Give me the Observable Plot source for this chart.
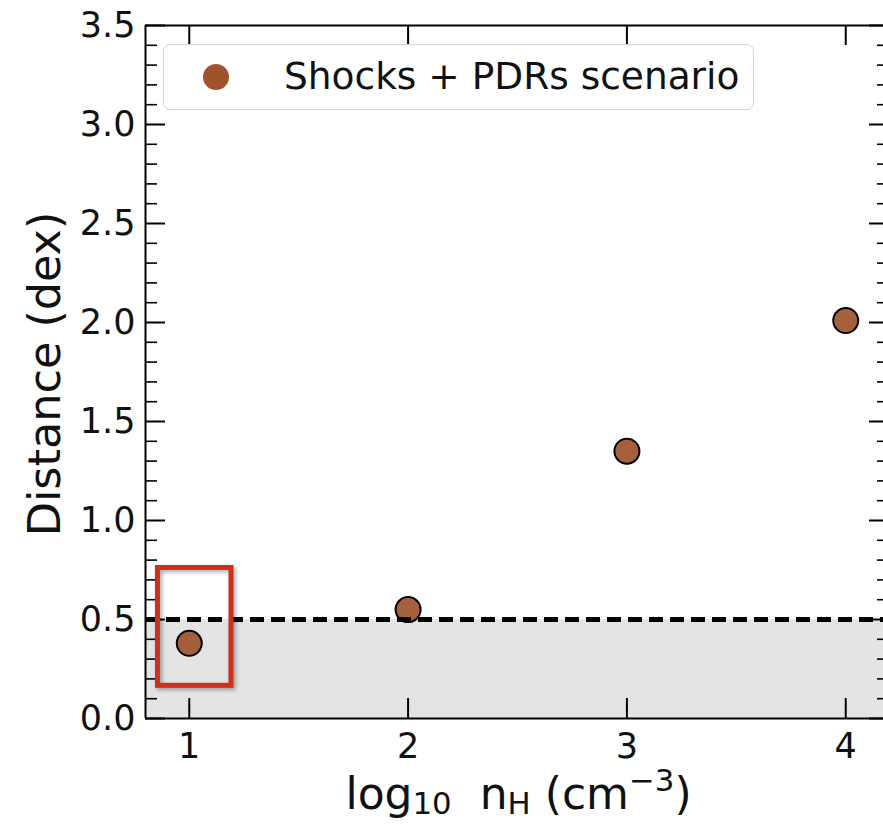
<!DOCTYPE html>
<html><head><meta charset="utf-8">
<script src="https://cdn.jsdelivr.net/npm/d3@7"></script>
<script src="https://cdn.jsdelivr.net/npm/@observablehq/plot@0.6"></script>
<style>
body{margin:0;background:#fff;font-family:"DejaVu Sans",sans-serif;}
#wrap{position:relative;width:883px;height:828px;overflow:hidden;background:#fff;}
#legend{position:absolute;left:163px;top:44px;width:591px;height:66px;box-sizing:border-box;border:1.5px solid #d4d4d4;border-radius:7px;background:rgba(255,255,255,0.85);}
#legend .mk{position:absolute;left:39px;top:19px;width:26px;height:26px;border-radius:50%;background:#a0522d;}
#legend .lt{position:absolute;left:120px;top:0;height:63px;line-height:63px;font-size:37.5px;color:#111;white-space:nowrap;}
#xtitle{position:absolute;left:0;width:1037px;top:771px;height:46px;line-height:46px;text-align:center;font-size:44px;color:#111;white-space:nowrap;}
#ytitle{position:absolute;left:45px;top:374px;line-height:50px;transform:translate(-50%,-50%) rotate(-90deg);font-size:44.5px;color:#111;white-space:nowrap;}
sub,sup{font-size:0.7em;line-height:0;}
sub{vertical-align:-0.15em;}
sup{vertical-align:0.6em;}
</style></head><body>
<div id="wrap">
  <div id="legend"><div class="mk"></div><div class="lt">Shocks + PDRs scenario</div></div>
  <div id="xtitle">log<sub>10</sub>&nbsp; n<sub>H</sub> (cm<sup>−3</sup>)</div>
  <div id="ytitle">Distance (dex)</div>
</div>
<script>
// ---- data ----
const logNH = [1, 2, 3, 4];
const distance = [0.38, 0.55, 1.35, 2.01];
const seriesName = "Shocks + PDRs scenario";
const thresholdValue = [0.5];
const shadedBand = [{y1: 0, y2: 0.5}];
const highlightBox = [{x1: 0.857, x2: 1.193, y1: 0.165, y2: 0.76}];
const xTicks = [1, 2, 3, 4];
const xTickLabels = ["1", "2", "3", "4"];
const yTicks = [0, 0.5, 1.0, 1.5, 2.0, 2.5, 3.0, 3.5];
const yTickLabels = ["0.0", "0.5", "1.0", "1.5", "2.0", "2.5", "3.0", "3.5"];
const yMinorTicks = [0.1,0.2,0.3,0.4,0.6,0.7,0.8,0.9,1.1,1.2,1.3,1.4,1.6,1.7,1.8,1.9,2.1,2.2,2.3,2.4,2.6,2.7,2.8,2.9,3.1,3.2,3.3,3.4];
const xDomain = [0.8, 4.2];
const yDomain = [0, 3.5];

// ---- layout ----
const W = 883, H = 828;
const mLeft = 145, mTop = 25, mBottom = 110;
const xRange = [145, 889];
const yRange = [H - mBottom, mTop];
const pxPerX = (xRange[1] - xRange[0]) / (xDomain[1] - xDomain[0]);
const pxPerY = (yRange[0] - yRange[1]) / (yDomain[1] - yDomain[0]);
const majorLen = 20, minorLen = 12;

const points = logNH.map((x, i) => ({x, y: distance[i], series: seriesName}));
const yT = yTicks.map((v, i) => ({v, label: yTickLabels[i]}));
const xT = xTicks.map((v, i) => ({v, label: xTickLabels[i]}));

const chart = Plot.plot({
  width: W, height: H,
  marginLeft: mLeft, marginTop: mTop, marginBottom: mBottom, marginRight: 0,
  x: {domain: xDomain, range: xRange, axis: null},
  y: {domain: yDomain, range: yRange, axis: null},
  style: {fontFamily: "DejaVu Sans, sans-serif", fontSize: "35px", background: "white", color: "#111"},
  marks: [
    Plot.rect(shadedBand, {x1: xDomain[0], x2: xDomain[1], y1: "y1", y2: "y2", fill: "#e4e4e4"}),
    // spines
    Plot.ruleX([xDomain[0]], {stroke: "black", strokeWidth: 2}),
    Plot.ruleY([yDomain[0]], {stroke: "black", strokeWidth: 2}),
    Plot.ruleY([yDomain[1]], {stroke: "black", strokeWidth: 2}),
    // inward ticks left / right
    Plot.ruleY(yTicks, {x1: xDomain[0], x2: xDomain[0] + majorLen / pxPerX, stroke: "black", strokeWidth: 2}),
    Plot.ruleY(yMinorTicks, {x1: xDomain[0], x2: xDomain[0] + minorLen / pxPerX, stroke: "black", strokeWidth: 1.6}),
    Plot.ruleY(yTicks, {x1: xDomain[1] - majorLen / pxPerX, x2: xDomain[1], stroke: "black", strokeWidth: 2}),
    Plot.ruleY(yMinorTicks, {x1: xDomain[1] - minorLen / pxPerX, x2: xDomain[1], stroke: "black", strokeWidth: 1.6}),
    // inward ticks bottom / top
    Plot.ruleX(xTicks, {y1: yDomain[0], y2: yDomain[0] + majorLen / pxPerY, stroke: "black", strokeWidth: 2}),
    Plot.ruleX(xTicks, {y1: yDomain[1] - majorLen / pxPerY, y2: yDomain[1], stroke: "black", strokeWidth: 2}),
    // tick labels
    Plot.text(yT, {x: xDomain[0], y: "v", text: "label", textAnchor: "end", dx: -10, fontSize: 35, fill: "#111"}),
    Plot.text(xT, {x: "v", y: yDomain[0], text: "label", dy: 28, fontSize: 35, fill: "#111"}),
    // data
    Plot.dot(points, {x: "x", y: "y", r: 12.5, fill: "#a0522d", fillOpacity: 0.92, stroke: "black", strokeWidth: 2}),
    // threshold
    Plot.ruleY(thresholdValue, {stroke: "black", strokeWidth: 5, strokeDasharray: "14,7", className: "thresh"}),
    // highlight box
    Plot.rect(highlightBox, {x1: "x1", x2: "x2", y1: "y1", y2: "y2", fill: "none", stroke: "#d0301a", strokeWidth: 5, className: "hlbox"})
  ]
});
d3.select(chart).selectAll(".hlbox rect").style("filter", "drop-shadow(2px 2px 2px rgba(0,0,0,0.35))");
d3.select(chart).selectAll(".thresh, .thresh line").style("stroke-width", "5px").style("stroke-dasharray", "14 7");
document.getElementById("wrap").prepend(chart);
</script>
</body></html>
